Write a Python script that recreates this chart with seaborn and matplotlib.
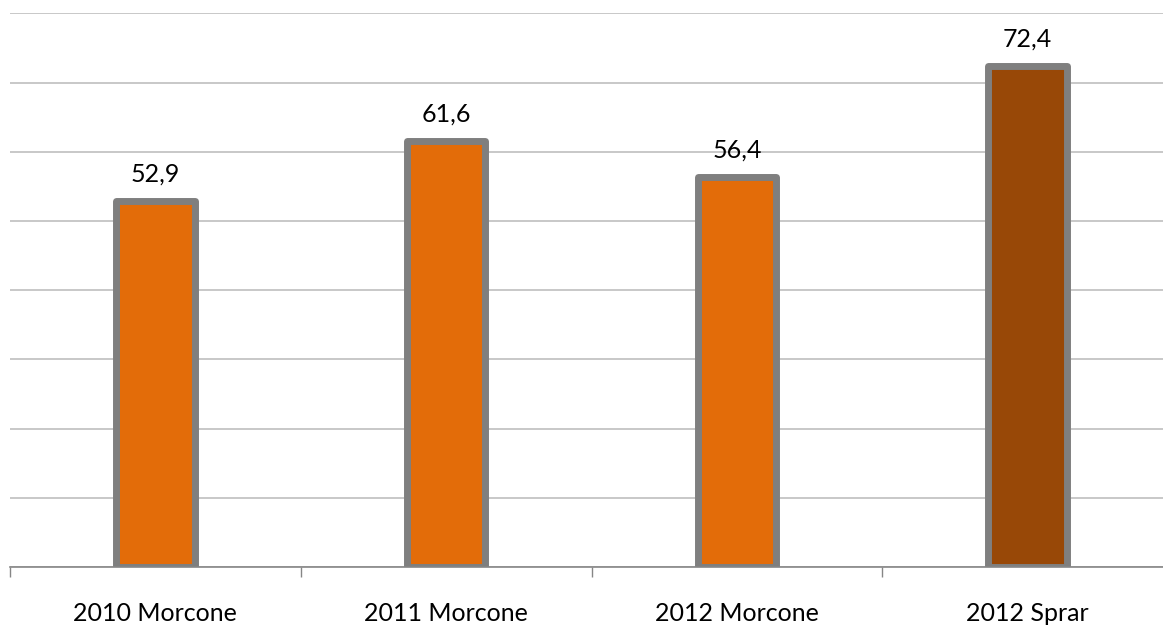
import matplotlib
matplotlib.use("Agg")
import matplotlib.pyplot as plt
import seaborn as sns
import pandas as pd

categories = ["2010 Morcone", "2011 Morcone", "2012 Morcone", "2012 Sprar"]
values = [52.9, 61.6, 56.4, 72.4]
bar_colors = ["#E36C09", "#E36C09", "#E36C09", "#984807"]

sns.set_style("white")
plt.rcParams["font.family"] = ["Lato", "DejaVu Sans"]
plt.rcParams["text.color"] = "black"

df = pd.DataFrame({"cat": categories, "val": values})

fig = plt.figure(figsize=(11.63, 6.27), dpi=100)
ax = fig.add_axes([10 / 1163, 60 / 627, 1.0, 553.6 / 627])

sns.barplot(data=df, x="cat", y="val", hue="cat", palette=bar_colors,
            width=0.27, edgecolor="#7F7F7F", linewidth=5, legend=False,
            saturation=1, ax=ax, zorder=3)
for p in ax.patches:
    p.set_joinstyle("round")

ax.set_xlim(-0.5, 3.5)
ax.set_ylim(0, 80)
ax.set_yticks(range(0, 81, 10))
ax.yaxis.grid(True, color="#BFBFBF", linewidth=1.2, zorder=0)
ax.tick_params(axis="y", left=False, labelleft=False)

for side in ["top", "right", "left"]:
    ax.spines[side].set_visible(False)
ax.spines["bottom"].set_color("#868686")
ax.spines["bottom"].set_linewidth(1.2)
ax.spines["bottom"].set_zorder(4)

# category boundary ticks
ax.set_xticks([-0.5, 0.5, 1.5, 2.5, 3.5], minor=True)
ax.tick_params(axis="x", which="minor", bottom=True, length=7, width=1,
               color="#868686", direction="out")
ax.tick_params(axis="x", which="major", bottom=False, length=0, pad=25,
               labelsize=18, labelcolor="black")

# data labels with decimal comma
for cont, v in zip(ax.containers, values):
    ax.bar_label(cont, labels=[f"{v:.1f}".replace(".", ",")],
                 padding=11, fontsize=18, color="black")

ax.set_xlabel("")
ax.set_ylabel("")

fig.savefig("out.png", dpi=100)
